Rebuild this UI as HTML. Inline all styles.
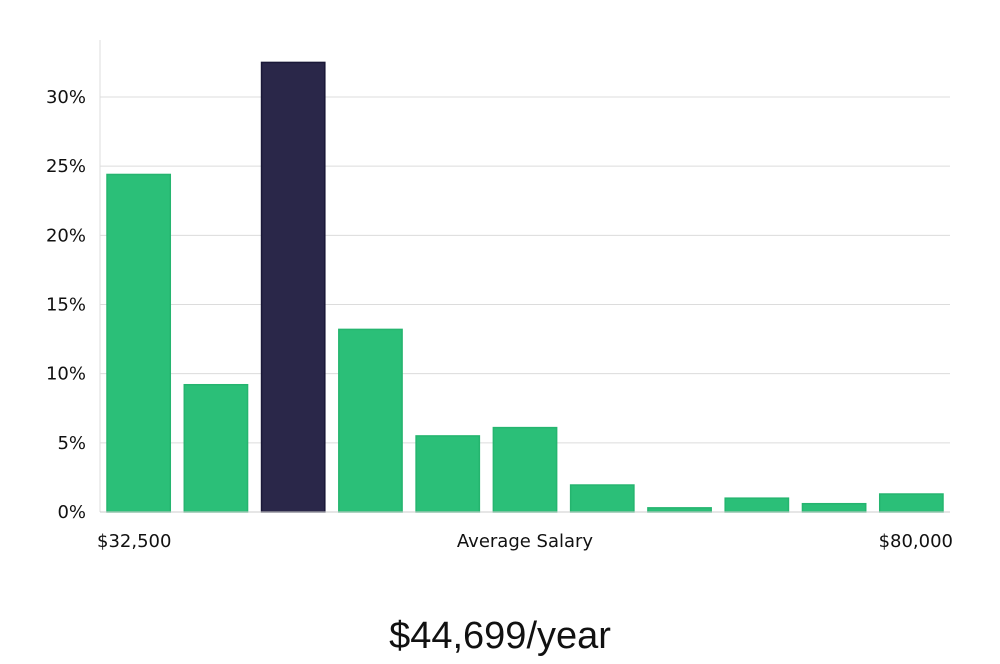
<!DOCTYPE html>
<html><head><meta charset="utf-8"><style>
body{margin:0;background:#fff;width:1000px;height:660px;overflow:hidden;font-family:"DejaVu Sans","Liberation Sans",sans-serif;}
svg text{fill:#111;}
</style></head><body>
<svg id="chart" width="1000" height="660" xmlns="http://www.w3.org/2000/svg">
<g id="grid"></g><g id="bars"></g><g id="yl"></g>
<line x1="100" y1="40" x2="100" y2="512" stroke="#ddd" stroke-width="1"/>
<line x1="100" y1="512" x2="950" y2="512" stroke="#ccc" stroke-width="1"/>
<text x="97" y="547" font-size="18">$32,500</text>
<text x="525" y="547" font-size="18" text-anchor="middle">Average Salary</text>
<text x="953" y="547" font-size="18" text-anchor="end">$80,000</text>
<text x="500" y="648" font-size="38" font-family="Liberation Sans, sans-serif" font-weight="300" text-anchor="middle" fill="#111">$44,699/year</text>
</svg>
<script>
const values=[24.4,9.2,32.5,13.2,5.5,6.1,1.95,0.3,1.0,0.6,1.3];
const highlight=[false,false,true,false,false,false,false,false,false,false,false];
const yTicks=[0,5,10,15,20,25,30];
const ns="http://www.w3.org/2000/svg";
const x0=100,x1=950,yb=512,pxPer=(512-97)/30;
const slot=(x1-x0)/values.length;
const y=v=>yb-v*pxPer;
const grid=document.getElementById('grid'),bars=document.getElementById('bars'),yl=document.getElementById('yl');
yTicks.forEach(t=>{
 if(t>0){const l=document.createElementNS(ns,'line');
 
 
 l.setAttribute('x1',x0);l.setAttribute('x2',x1);l.setAttribute('y1',y(t));l.setAttribute('y2',y(t));
 l.setAttribute('stroke','#dcdcdc');grid.appendChild(l);}
 const tx=document.createElementNS(ns,'text');
 
 
 tx.setAttribute('x',86);tx.setAttribute('y',y(t)+6);tx.setAttribute('text-anchor','end');tx.setAttribute('font-size','18');
 tx.textContent=t+'%';yl.appendChild(tx);
});
values.forEach((v,i)=>{
 const r=document.createElementNS(ns,'rect');
 
 
 const bx=x0+i*slot+7;
 r.setAttribute('x',bx);r.setAttribute('width',slot-14);
 r.setAttribute('y',y(v));r.setAttribute('height',yb-y(v));
 r.setAttribute('fill',highlight[i]?'#2a2749':'#2bbf78');
 r.setAttribute('stroke',highlight[i]?'#1a1838':'#25b56f');r.setAttribute('stroke-width','1.5');
 bars.appendChild(r);
});
</script>
</body></html>
